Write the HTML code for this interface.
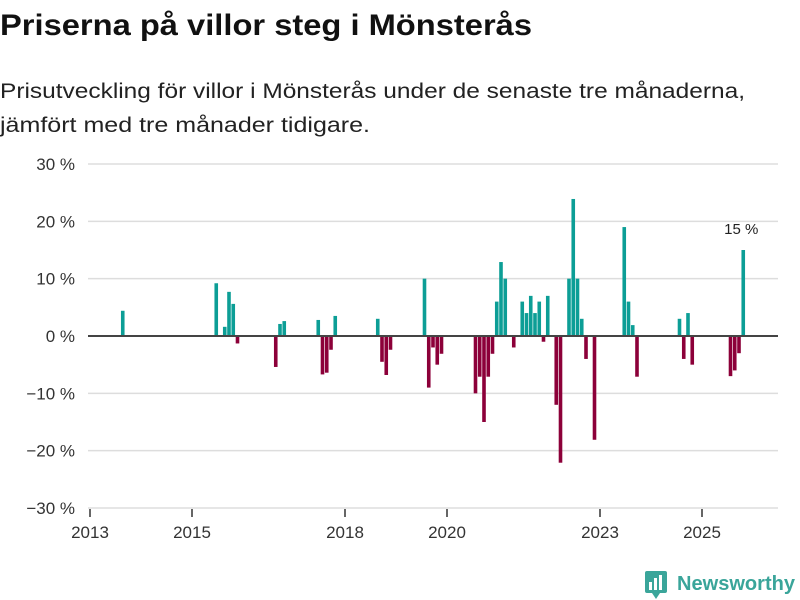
<!DOCTYPE html>
<html><head><meta charset="utf-8"><style>
body{margin:0;width:800px;height:600px;background:#fff;font-family:"Liberation Sans","DejaVu Sans",sans-serif;overflow:hidden}
</style></head><body>
<svg width="800" height="600" style="position:absolute;left:0;top:0">
<text x="0" y="35" font-size="30" font-weight="bold" fill="#111" textLength="532" lengthAdjust="spacingAndGlyphs">Priserna på villor steg i Mönsterås</text>
<text x="0" y="98" font-size="21" fill="#222" textLength="745" lengthAdjust="spacingAndGlyphs">Prisutveckling för villor i Mönsterås under de senaste tre månaderna,</text>
<text x="0" y="132" font-size="21" fill="#222" textLength="370" lengthAdjust="spacingAndGlyphs">jämfört med tre månader tidigare.</text>
<g id="grid"></g><g id="bars"></g><g id="axes"></g>
<g>
<rect x="645" y="571" width="22" height="22" rx="2" fill="#3aa59a"/>
<rect x="649" y="582" width="3" height="8" fill="#fff"/><rect x="654" y="578" width="3" height="12" fill="#fff"/><rect x="659" y="575" width="3" height="15" fill="#fff"/>
<polygon points="652,593 660,593 656,599" fill="#3aa59a"/>
<text x="677" y="590" font-size="20" font-weight="bold" fill="#3aa59a" textLength="118" lengthAdjust="spacingAndGlyphs">Newsworthy</text>
</g>
</svg>
<script>
const months=["2013-08","2015-06","2015-08","2015-09","2015-10","2015-11","2016-08","2016-09","2016-10","2017-06","2017-07","2017-08","2017-09","2017-10","2018-08","2018-09","2018-10","2018-11","2019-07","2019-08","2019-09","2019-10","2019-11","2020-07","2020-08","2020-09","2020-10","2020-11","2020-12","2021-01","2021-02","2021-04","2021-06","2021-07","2021-08","2021-09","2021-10","2021-11","2021-12","2022-02","2022-03","2022-05","2022-06","2022-07","2022-08","2022-09","2022-11","2023-06","2023-07","2023-08","2023-09","2024-07","2024-08","2024-09","2024-10","2025-07","2025-08","2025-09","2025-10"];
const values=[4.4,9.2,1.6,7.7,5.6,-1.3,-5.4,2.1,2.6,2.8,-6.7,-6.4,-2.4,3.5,3,-4.5,-6.8,-2.4,10,-9,-2,-5,-3.1,-10,-7.1,-15,-7.1,-3.1,6,12.9,10,-2,6,4,7,4,6,-1,7,-12,-22.1,10,23.9,10,3,-4,-18.1,19,6,1.9,-7.1,3,-4,4,-5,-7,-6,-3,15];
const yTicks=[30,20,10,0,-10,-20,-30];
const yTickLabels=["30 %","20 %","10 %","0 %","−10 %","−20 %","−30 %"];
const xTicks=[2013,2015,2018,2020,2023,2025];
const NS="http://www.w3.org/2000/svg";
function y(v){return 336-v*(172/30);}
function x(m){const [yy,mm]=m.split("-").map(Number);return 90+((yy-2013)*12+(mm-1))*(51/12);}
function xYear(yr){return 90+(yr-2013)*51;}
function mk(p,tag,a){const e=document.createElementNS(NS,tag);for(const k in a)e.setAttribute(k,a[k]);p.appendChild(e);return e;}
const grid=document.getElementById("grid"),bars=document.getElementById("bars"),axes=document.getElementById("axes");
yTicks.forEach((t,i)=>{
 if(t!==0&&t!==-30){const l=mk(grid,"line",{x1:88,x2:778,y1:y(t),y2:y(t),stroke:"#ddd","stroke-width":1.5});
 
 }
 const tx=mk(axes,"text",{x:75,y:y(t)+6,"text-anchor":"end","font-size":17,fill:"#333"});tx.textContent=yTickLabels[i];
 
 
});
months.forEach((m,i)=>{const v=values[i];const r=mk(bars,"rect",{x:x(m)+1.2,width:3.6,y:Math.min(y(v),y(0)),height:Math.abs(y(v)-y(0)),fill:v>=0?"#0c9e96":"#8c0039"});
 
 });
const z=mk(axes,"line",{x1:88,x2:778,y1:y(0),y2:y(0),stroke:"#444","stroke-width":2});


const ba=mk(axes,"line",{x1:88,x2:778,y1:508,y2:508,stroke:"#ddd","stroke-width":1.5});


xTicks.forEach(yr=>{const tk=mk(axes,"line",{x1:xYear(yr),x2:xYear(yr),y1:509,y2:517,stroke:"#333","stroke-width":1.5});
 
 
 const t=mk(axes,"text",{x:xYear(yr),y:538,"text-anchor":"middle","font-size":17,fill:"#333"});t.textContent=yr;
 
 });
const li=values.length-1;
const lab=mk(axes,"text",{x:x(months[li])+1,y:y(values[li])-16,"text-anchor":"middle","font-size":15,fill:"#222"});lab.textContent=Math.round(values[li])+" %";


</script>
</body></html>
